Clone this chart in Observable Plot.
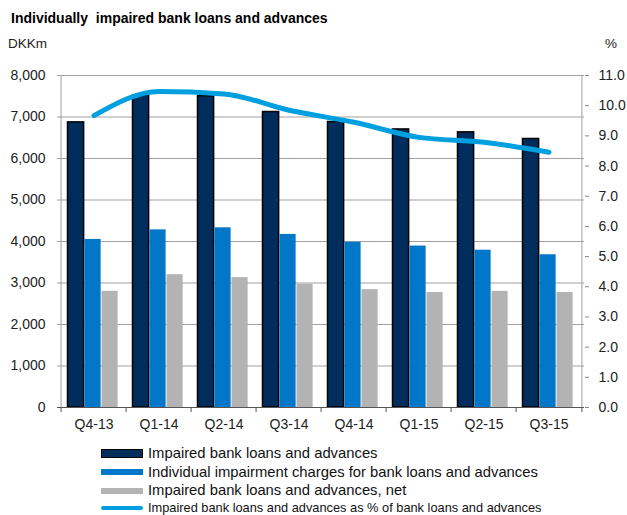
<!DOCTYPE html>
<html><head><meta charset="utf-8">
<script src="https://cdn.jsdelivr.net/npm/d3@7"></script>
<script src="https://cdn.jsdelivr.net/npm/@observablehq/plot@0.6"></script>
<style>
body{margin:0;background:#fff;font-family:"Liberation Sans",Arial,sans-serif;color:#111;}
#wrap{position:relative;width:627px;height:515px;overflow:hidden;background:#fff}
.abs{position:absolute;line-height:1;white-space:nowrap}
#title{left:11px;top:11px;font-size:14px;font-weight:bold;color:#000}
#unitL{left:8px;top:37px;font-size:13.5px;color:#222}
#unitR{left:605px;top:37px;font-size:13.5px;color:#222}
#chart{position:absolute;left:0;top:60px}
.lg{position:absolute;left:101px;height:17px;line-height:17px;display:flex;align-items:center;white-space:nowrap}
.sw{width:42px;margin-right:5px;box-sizing:border-box}
</style></head><body>
<div id="wrap">
  <div id="title" class="abs">Individually&nbsp; impaired bank loans and advances</div>
  <div id="unitL" class="abs">DKKm</div>
  <div id="unitR" class="abs">%</div>
  <div id="chart"></div>
  <div id="legend"></div>
</div>
<script>
const quarters = ["Q4-13","Q1-14","Q2-14","Q3-14","Q4-14","Q1-15","Q2-15","Q3-15"];
const impaired = [6870, 7520, 7500, 7120, 6880, 6700, 6630, 6470];
const charges  = [4050, 4280, 4330, 4170, 3980, 3890, 3790, 3680];
const net      = [2800, 3200, 3130, 2970, 2840, 2770, 2800, 2770];
const pct      = [9.67, 10.47, 10.39, 9.85, 9.45, 8.95, 8.79, 8.46];
const leftTicks  = [0,1000,2000,3000,4000,5000,6000,7000,8000];
const rightTicks = [0,1,2,3,4,5,6,7,8,9,10,11];
const seriesNames = [
  "Impaired bank loans and advances",
  "Individual impairment charges for bank loans and advances",
  "Impaired bank loans and advances, net",
  "Impaired bank loans and advances as % of bank loans and advances"
];

const W = 627, H = 375, mL = 57, mR = 43, mT = 15, mB = 28;
const bw = (W - mL - mR) / quarters.length;
const barW = 17, offsets = [6.5, 23.5, 40.5];
const yMax = 8000, pMax = 11, k = yMax / pMax;
const colors = ["#002d5c", "#0077c8", "#b3b3b3"];
const lineColor = "#00a0e0";
const keys = ["impaired","charges","net"];
const rows = quarters.map((q,i)=>({q, impaired:impaired[i], charges:charges[i], net:net[i], pct:pct[i]}));

const chart = Plot.plot({
  width: W, height: H,
  marginLeft: mL, marginRight: mR, marginTop: mT, marginBottom: mB,
  style: {fontFamily: "Liberation Sans, Arial, sans-serif", fontSize: "14px", color: "#222", background: "#fff"},
  x: {type: "band", domain: quarters, padding: 0},
  y: {domain: [0, yMax]},
  marks: [
    Plot.gridY(leftTicks, {stroke: "#a0a0a0", strokeOpacity: 1}),
    ...keys.map((key, j) => Plot.barY(rows, {
      x: "q", y: key, fill: colors[j],
      insetLeft: offsets[j], insetRight: bw - offsets[j] - barW,
      stroke: j === 0 ? "#000" : "none", strokeWidth: 1.5
    })),
    Plot.line(rows, {x: "q", y: d => d.pct * k, stroke: lineColor, strokeWidth: 5, curve: "monotone-x", strokeLinecap: "round"}),
    Plot.ruleX([quarters[0]], {dx: -bw/2, stroke: "#a0a0a0"}),
    Plot.ruleX([quarters[quarters.length-1]], {dx: bw/2, stroke: "#a0a0a0"}),
    Plot.ruleY([0], {stroke: "#555"}),
    Plot.axisY(leftTicks, {anchor: "left", tickSize: 0, tickPadding: 12, tickFormat: d3.format(","), label: null}),
    Plot.axisY(rightTicks.map(v => v * k), {anchor: "right", tickSize: 4, tickPadding: 10, stroke: "#888", tickFormat: d => (d / k).toFixed(1), label: null}),
    Plot.axisX({tickSize: 0, tickPadding: 12, label: null}),
    Plot.axisX(quarters, {tickSize: 5, dx: -bw/2, stroke: "#555", tickFormat: () => "", label: null}),
    Plot.axisX([quarters[quarters.length-1]], {tickSize: 5, dx: bw/2, stroke: "#555", tickFormat: () => "", label: null})
  ]
});
document.getElementById("chart").appendChild(chart);

const legend = document.getElementById("legend");
const rowsY = [445, 463.5, 482, 499];
const sw = [
  {bg: colors[0], h: 9, border: "1.5px solid #000", radius: 0},
  {bg: colors[1], h: 6, border: "none", radius: 0},
  {bg: colors[2], h: 6, border: "none", radius: 0},
  {bg: lineColor, h: 4, border: "none", radius: 2}
];
seriesNames.forEach((name, i) => {
  const r = document.createElement("div");
  r.className = "lg";
  r.style.top = rowsY[i] + "px";
  r.style.fontSize = i === 3 ? "12.8px" : "14.8px";
  const s = document.createElement("div");
  s.className = "sw";
  s.style.height = sw[i].h + "px";
  s.style.background = sw[i].bg;
  s.style.border = sw[i].border;
  s.style.borderRadius = sw[i].radius + "px";
  const t = document.createElement("span");
  t.textContent = name;
  r.appendChild(s); r.appendChild(t);
  legend.appendChild(r);
});
</script>
</body></html>
